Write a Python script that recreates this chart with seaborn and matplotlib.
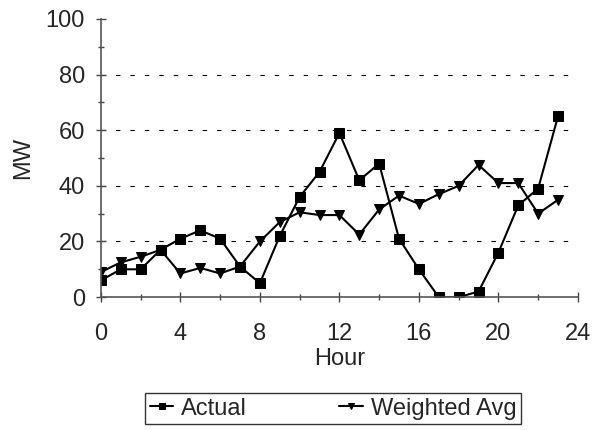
import numpy as np
import pandas as pd
import seaborn as sns
import matplotlib.pyplot as plt
from matplotlib.ticker import MultipleLocator

hours = list(range(24))
actual = [6, 10, 10, 17, 21, 24, 21, 11, 5, 22, 36, 45, 59, 42, 48, 21, 10, 0, 0, 2, 16, 33, 39, 65]
weighted = [9, 12.5, 14.5, 17, 8.5, 10.5, 8.5, 11, 20, 27, 30.5, 29.5, 29.5, 22.5, 31.5, 36.5,
            33.5, 37, 40, 47.5, 41, 41, 30, 35]

df = pd.DataFrame({'Hour': hours * 2,
                   'MW': actual + weighted,
                   'Series': ['Actual'] * 24 + ['Weighted Avg'] * 24})

sns.set_style('white')
plt.rcParams['font.family'] = ['Liberation Sans', 'DejaVu Sans']

fig = plt.figure(figsize=(5.97, 4.30), dpi=100)
ax = fig.add_axes([0.169, 0.309, 0.799, 0.647])

sns.lineplot(data=df, x='Hour', y='MW', hue='Series', style='Series',
             markers={'Actual': 's', 'Weighted Avg': 'v'}, dashes=False,
             palette={'Actual': 'black', 'Weighted Avg': 'black'},
             markersize=6.5, linewidth=1.5, markeredgecolor='black', ax=ax)

ax.set_xlim(0, 24)
ax.set_ylim(0, 100)
ax.xaxis.set_major_locator(MultipleLocator(4))
ax.xaxis.set_minor_locator(MultipleLocator(2))
ax.yaxis.set_major_locator(MultipleLocator(20))
ax.yaxis.set_minor_locator(MultipleLocator(10))
ax.tick_params(which='both', direction='inout', length=7, width=1, color='#444444',
               labelsize=17, bottom=True, left=True)
ax.tick_params(which='minor', length=5)
ax.tick_params(axis='x', pad=15)
ax.tick_params(axis='y', pad=8)
for v in [20, 40, 60, 80]:
    ax.axhline(v, color='black', linestyle=(0, (4, 9)), linewidth=0.8, zorder=0)
for s in ['top', 'right']:
    ax.spines[s].set_visible(False)
for s in ['left', 'bottom']:
    ax.spines[s].set_color('#555555')
    ax.spines[s].set_linewidth(1.2)
ax.set_xlabel('Hour', fontsize=17, labelpad=2)
ax.set_ylabel('MW', fontsize=17, labelpad=8)

handles, labels = ax.get_legend_handles_labels()
ax.legend_.remove()
fig.legend(handles, labels, loc='upper left', bbox_to_anchor=(0.243, 0.086), ncol=2,
           frameon=True, fancybox=False, edgecolor='black', fontsize=17,
           handlelength=1.0, handletextpad=0.33, columnspacing=3.9, borderpad=0.2,
           borderaxespad=0, markerscale=0.7)

fig.savefig('out.png', dpi=100)
